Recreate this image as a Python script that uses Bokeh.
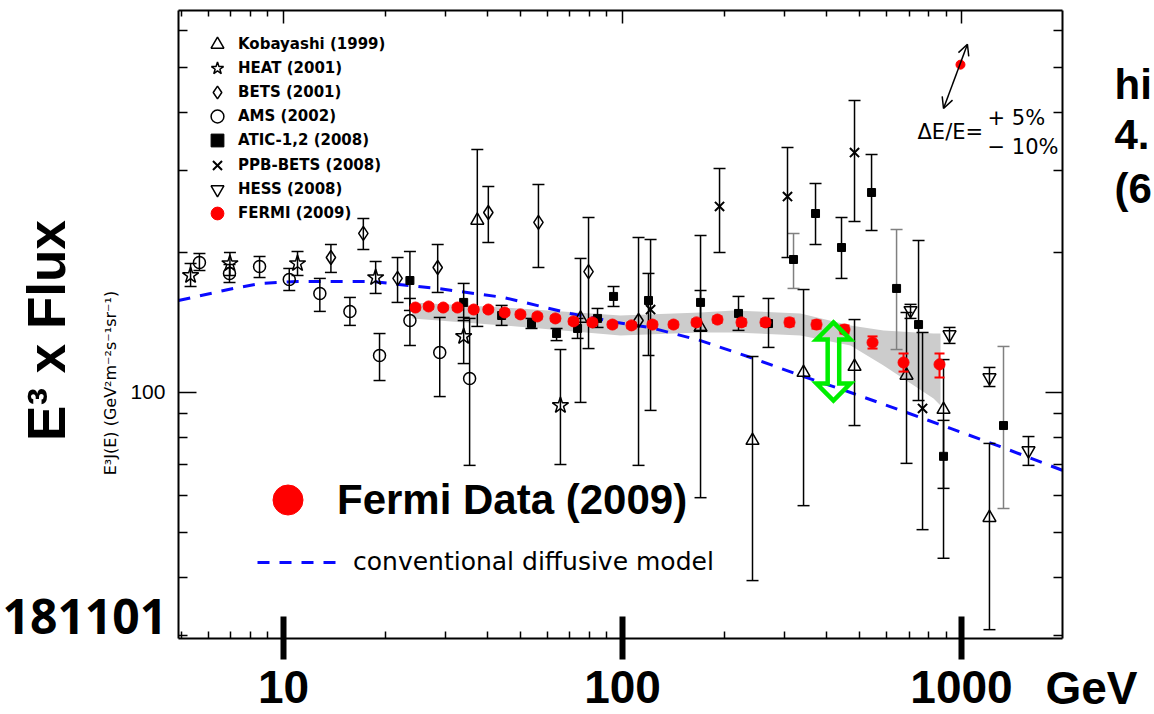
import numpy as np
from bokeh.plotting import figure
from bokeh.models import (ColumnDataSource, FixedTicker, LogAxis, Label, Legend,
                          LegendItem, Arrow, OpenHead, BasicTickFormatter)
from bokeh.embed import file_html
from bokeh.resources import INLINE

# ---------------- data (E in GeV, E^3 J(E) in GeV^2 m^-2 s^-1 sr^-1) ----------------
kob_E = [37.3, 75.2, 169.9, 241.8, 342.0, 483.5, 688.3, 885.0, 1209.0]
kob_F = [234.4, 144.3, 138.0, 78.8, 110.4, 113.7, 108.8, 91.9, 53.8]
kob_lo = [138.7, 95.2, 59.4, 39.4, 57.1, 84.9, 70.4, 62.2, 30.9]
kob_hi = [333.1, 194.2, 217.6, 119.5, 166.5, 143.5, 148.6, 117.7, 77.7]

heat_E = [5.32, 6.95, 11.0, 18.7, 34.0, 65.6]
heat_F = [178.5, 189.4, 189.4, 176.7, 132.0, 93.8]
heat_lo = [169.0, 178.5, 178.5, 163.3, 115.4, 70.0]
heat_hi = [189.4, 200.0, 201.0, 191.3, 145.0, 123.7]

bets_E = [13.8, 17.2, 21.7, 28.5, 40.2, 56.5, 79.4, 111.5]
bets_F = [195.1, 219.8, 175.9, 185.7, 243.8, 232.1, 182.0, 142.8]
bets_lo = [181.2, 203.0, 156.2, 164.1, 210.2, 185.7, 124.3, 69.7]
bets_hi = [208.1, 236.7, 195.1, 208.1, 277.3, 280.1, 237.8, 215.4]

ams_E = [5.65, 6.93, 8.50, 10.4, 12.8, 15.7, 19.2, 23.6, 28.9, 35.4]
ams_F = [190.4, 180.3, 186.6, 175.0, 163.3, 149.4, 120.1, 142.8, 121.9, 107.2]
ams_lo = [182.9, 172.4, 176.7, 165.7, 149.4, 139.4, 106.1, 126.2, 98.0, 69.7]
ams_hi = [199.0, 188.5, 196.1, 184.8, 175.9, 160.1, 133.9, 159.3, 145.0, 144.3]

atic_E = [23.6, 34.0, 44.0, 53.9, 63.9, 73.7, 84.4, 94.1, 119.3, 169.9, 219.9, 269.6,
          371.0, 442.6, 542.8, 746.9, 885.0]
atic_F = [174.1, 156.2, 146.4, 140.7, 133.9, 137.3, 144.3, 160.9, 157.7, 156.2, 147.9, 140.7,
          242.6, 205.0, 269.2, 140.0, 72.9]
atic_lo = [150.1, 142.8, 139.4, 137.3, 129.3, 130.7, 138.0, 153.1, 120.1, 136.0, 136.0, 125.0,
           208.1, 175.9, 223.0, 96.1, 44.0]
atic_hi = [201.0, 171.6, 153.9, 144.3, 137.3, 144.3, 151.6, 169.0, 180.3, 165.7, 160.9, 159.3,
           281.5, 237.8, 324.9, 212.3, 87.1]

atic2_E = [319.5, 643.3, 1330.0]
atic2_F = [193.2, 167.4, 84.9]
atic2_lo = [167.4, 123.7, 56.3]
atic2_hi = [219.8, 224.1, 125.6]

ppb_E = [121.0, 193.3, 306.7, 483.5, 767.4]
ppb_F = [150.8, 251.2, 263.9, 328.1, 92.4]
ppb_lo = [91.5, 200.0, 195.1, 233.2, 50.7]
ppb_hi = [213.3, 303.1, 336.5, 424.6, 134.6]

hess_E = [707.3, 921.8, 1209.0, 1576.0]
hess_F = [150.1, 133.2, 107.7, 75.0]
hess_lo = [144.3, 127.5, 103.0, 69.7]
hess_hi = [154.7, 138.0, 113.2, 80.4]

fermi_E = [24.5, 26.8, 29.6, 32.6, 36.4, 40.2, 44.9, 50.0, 56.1, 63.4, 71.7, 81.5, 93.4,
           106.3, 122.6, 141.4, 165.3, 190.6, 224.4, 264.1, 310.9, 373.5, 451.7, 546.4,
           674.5, 861.2]
fermi_F = [152.3, 153.1, 152.3, 152.3, 150.8, 150.8, 148.6, 147.2, 145.7, 144.3, 142.2, 141.5,
           140.0, 139.4, 140.0, 140.0, 141.5, 143.5, 141.5, 141.5, 141.5, 140.0, 136.6, 128.1,
           116.0, 114.9]
fermi_lo = [150.3, 151.1, 150.3, 150.3, 148.8, 148.8, 146.6, 145.2, 143.7, 142.3, 140.2, 139.5,
            138.0, 137.4, 138.0, 138.0, 139.3, 141.2, 139.1, 139.0, 138.8, 137.2, 133.9, 124.3,
            110.9, 107.7]
fermi_hi = [154.3, 155.1, 154.3, 154.3, 152.8, 152.8, 150.6, 149.2, 147.7, 146.3, 144.2, 143.5,
            142.0, 141.4, 142.0, 142.0, 143.7, 145.8, 143.9, 144.0, 144.2, 142.8, 139.4, 132.0,
            121.3, 121.3]

# Fermi systematic band
band_E = [24.0, 44.6, 98.6, 169.9, 212.6, 335.0, 470.6, 588.9, 826.9, 867.2]
band_hi = [156.2, 152.3, 146.4, 148.6, 150.1, 147.9, 139.4, 136.0, 133.9, 133.9]
band_lo = [144.3, 139.4, 132.6, 134.6, 134.6, 132.6, 126.2, 114.3, 97.1, 93.8]

# conventional diffusive model
model_E = [4.9, 7.12, 8.55, 11.0, 18.1, 28.4, 44.6, 70.2, 96.4, 121.0, 169.9, 238.8, 335.0,
           470.6, 662.5, 928.0, 1303.0, 1986.0]
model_F = [157.7, 167.4, 171.6, 173.3, 173.3, 167.4, 160.1, 147.9, 141.4, 137.9, 129.3, 118.9,
           108.8, 100.0, 91.5, 83.7, 76.5, 68.0]

# energy-scale uncertainty marker
shift_E = [993.0]
shift_F = [507.0]
shift_up = (1041.0, 561.0)
shift_down = (885.0, 408.0)

# green gap arrow between Fermi and model
gap_E = 419.0
gap_top = 141.5
gap_bottom = 96.1

x_major = [10, 100, 1000]
x_major_labels = ["10", "100", "1000"]
x_minor = [5, 6, 7, 8, 9, 20, 30, 40, 50, 60, 70, 80, 90, 200, 300, 400, 500, 600, 700, 800, 900]
y_major = [100]
y_minor = [30, 40, 50, 60, 70, 80, 90, 200, 300, 400, 500, 600]

# axes box (data limits) and the full canvas extent in data units
X0, X1 = 4.90, 1986.0
Y0, Y1 = 29.58, 663.0
XV = (1.463, 3709.0)
YV = (20.30, 696.6)

W, H = 1154, 714

# ---------------- figure ----------------
p = figure(width=W, height=H, x_axis_type="log", y_axis_type="log",
           x_range=XV, y_range=YV, output_backend="svg", toolbar_location=None,
           x_axis_location=None, y_axis_location=None, min_border=0)
p.background_fill_color = "white"
p.border_fill_color = "white"
p.outline_line_color = None
for g in p.grid:
    g.visible = False


def make_axis(ticks, minors, tin, tout, width, minor_in, loc, bounds, labels=None):
    ax = LogAxis(ticker=FixedTicker(ticks=ticks, minor_ticks=minors),
                 formatter=BasicTickFormatter(), fixed_location=loc, bounds=bounds,
                 axis_line_color="black", axis_line_width=2,
                 major_tick_in=tin, major_tick_out=tout, major_tick_line_width=width,
                 major_tick_line_color="black",
                 minor_tick_in=minor_in, minor_tick_out=0, minor_tick_line_width=1.5,
                 minor_tick_line_color="black")
    if labels is None:
        ax.major_label_overrides = {t: "" for t in ticks}
    else:
        ax.major_label_overrides = dict(zip(ticks, labels))
    return ax


xb = make_axis(x_major, x_minor, 22, 21, 6, 7, Y0, (X0, X1), x_major_labels)
xb.major_label_text_font = "Liberation Sans"
xb.major_label_text_font_style = "bold"
xb.major_label_text_font_size = "46px"
xb.major_label_text_color = "black"
xb.major_label_standoff = 12
p.add_layout(xb, "below")
p.add_layout(make_axis(x_major, x_minor, 13, 0, 1.5, 6, Y1, (X0, X1)), "above")
yl = make_axis(y_major, y_minor, 18, 0, 1.5, 9, X0, (Y0, Y1), ["100"])
yl.major_label_text_font = "Liberation Sans"
yl.major_label_text_font_size = "21px"
yl.major_label_text_color = "black"
yl.major_label_standoff = 13
p.add_layout(yl, "left")
p.add_layout(make_axis(y_major, y_minor, 17, 0, 1.5, 9, X1, (Y0, Y1)), "right")

# band
p.varea(x=band_E, y1=band_lo, y2=band_hi, fill_color="#cccccc", fill_alpha=1.0)
# model
r_model = p.line(model_E, model_F, line_color="#0a0aff", line_width=3, line_dash="12 10")


def errbars(E, lo, hi, color="black", width=1.5, cap=12):
    src = ColumnDataSource(dict(x=E, lo=lo, hi=hi))
    p.segment(x0="x", y0="lo", x1="x", y1="hi", source=src, line_color=color, line_width=width)
    p.scatter(x="x", y="lo", source=src, marker="dash", size=cap, line_color=color, line_width=width)
    p.scatter(x="x", y="hi", source=src, marker="dash", size=cap, line_color=color, line_width=width)


errbars(kob_E, kob_lo, kob_hi)
errbars(heat_E, heat_lo, heat_hi)
errbars(bets_E, bets_lo, bets_hi)
errbars(ams_E, ams_lo, ams_hi)
errbars(atic_E, atic_lo, atic_hi)
errbars(atic2_E, atic2_lo, atic2_hi, color="#808080")
errbars(ppb_E, ppb_lo, ppb_hi)
errbars(hess_E, hess_lo, hess_hi)

open_kw = dict(line_color="black", fill_color=None, line_width=1.5)
r_kob = p.scatter(kob_E, kob_F, marker="triangle", size=13, **open_kw)
r_heat = p.scatter(heat_E, heat_F, marker="star", size=17, **open_kw)
r_bets = p.scatter(bets_E, bets_F, marker="diamond", size=14, **open_kw)
r_ams = p.scatter(ams_E, ams_F, marker="circle", size=12, **open_kw)
r_atic = p.scatter(atic_E, atic_F, marker="square", size=8, color="black")
p.scatter(atic2_E, atic2_F, marker="square", size=8, color="black")
r_ppb = p.scatter(ppb_E, ppb_F, marker="x", size=13, line_color="black", line_width=2)
r_hess = p.scatter(hess_E, hess_F, marker="inverted_triangle", size=13, **open_kw)

errbars(fermi_E, fermi_lo, fermi_hi, color="#ff0000", width=2, cap=10)
r_fermi = p.scatter(fermi_E, fermi_F, marker="circle", size=11, color="#ff0000")

# green hollow double arrow
lx, ty, by = np.log10(gap_E), np.log10(gap_top), np.log10(gap_bottom)
hw, sw, hh = 0.050, 0.017, 0.0366
gx = 10 ** (lx + np.array([0, hw, sw, sw, hw, 0, -hw, -sw, -sw, -hw]))
gy = 10 ** np.array([ty, ty - hh, ty - hh, by + hh, by + hh, by, by + hh, by + hh, ty - hh, ty - hh])
p.patch(gx, gy, fill_alpha=0, line_color="#00ee00", line_width=4.5, line_join="miter")

# energy scale marker
p.add_layout(Arrow(start=OpenHead(size=11, line_width=1.5), end=OpenHead(size=11, line_width=1.5),
                   x_start=shift_down[0], y_start=shift_down[1], x_end=shift_up[0], y_end=shift_up[1],
                   line_width=1.5, line_color="black"))
p.scatter(shift_E, shift_F, marker="circle", size=9, color="#ff0000")

# ---------------- legends ----------------
legend_labels = ["Kobayashi (1999)", "HEAT (2001)", "BETS (2001)", "AMS (2002)",
                 "ATIC-1,2 (2008)", "PPB-BETS (2008)", "HESS (2008)", "FERMI (2009)"]
legend_rends = [r_kob, r_heat, r_bets, r_ams, r_atic, r_ppb, r_hess, r_fermi]
legend_rows_y = [44, 68, 92, 116, 140, 165, 189, 213]   # canvas rows of the key
for lab, rend, cy in zip(legend_labels, legend_rends, legend_rows_y):
    p.add_layout(Legend(items=[LegendItem(label=lab, renderers=[rend])],
                        location=(201, H - (cy + 16)), glyph_width=32, glyph_height=32,
                        label_standoff=5, padding=0, margin=0, border_line_alpha=0,
                        background_fill_alpha=0, label_text_color="black",
                        label_text_font="DejaVu Sans", label_text_font_style="bold",
                        label_text_font_size="15px"))

p.add_layout(Legend(items=[LegendItem(label="Fermi Data (2009)", renderers=[r_fermi])],
                    location=(250, H - 537), glyph_width=75, glyph_height=75, label_standoff=12,
                    padding=0, margin=0, border_line_alpha=0, background_fill_alpha=0,
                    label_text_color="black", label_text_font="Liberation Sans",
                    label_text_font_style="bold", label_text_font_size="42px"))

p.add_layout(Legend(items=[LegendItem(label="conventional diffusive model", renderers=[r_model])],
                    location=(257, H - 576), glyph_width=85, glyph_height=28, label_standoff=11,
                    padding=0, margin=0, border_line_alpha=0, background_fill_alpha=0,
                    label_text_color="black", label_text_font="DejaVu Sans",
                    label_text_font_size="25px"))


# ---------------- texts ----------------
def lbl(text, cx, cy, size, font="Liberation Sans", style="normal", align="left", angle=0.0,
        baseline="middle"):
    p.add_layout(Label(x=cx, y=H - cy, x_units="screen", y_units="screen", text=text,
                       text_font=font, text_font_size=size, text_font_style=style,
                       text_align=align, text_baseline=baseline, angle=angle,
                       text_color="black"))


lbl("GeV", 1045, 687, "46px", style="bold")
lbl("E³ x Flux", 46, 330, "53px", style="bold", align="center", angle=np.pi / 2)
lbl("E³J(E)  (GeV²m⁻²s⁻¹sr⁻¹)", 110, 380, "16px", font="DejaVu Sans", align="center",
    angle=np.pi / 2)
lbl("181101", 2, 616, "48px", font="Noto Sans", style="bold")
lbl("hi", 1114, 84, "42px", style="bold")
lbl("4.", 1114, 134, "42px", style="bold")
lbl("(6", 1114, 188, "42px", style="bold")
lbl("ΔE/E=", 917, 131, "21px", font="DejaVu Sans")
lbl("+  5%", 987, 117, "21px", font="DejaVu Sans")
lbl("−  10%", 987, 146, "21px", font="DejaVu Sans")

open("out.html", "w").write(file_html(p, INLINE))
